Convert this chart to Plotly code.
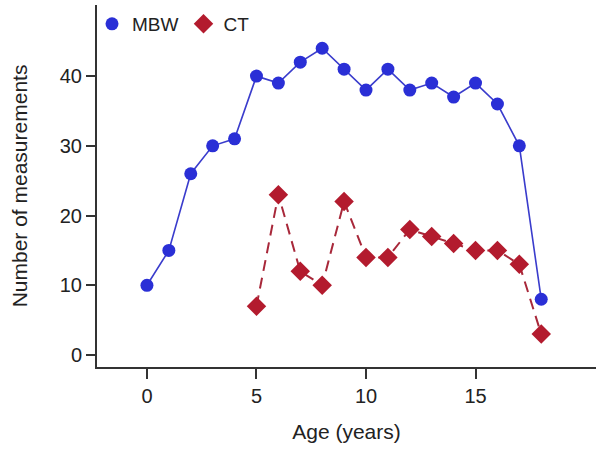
import plotly.graph_objects as go

mbw_age = list(range(0, 19))
mbw_n = [10, 15, 26, 30, 31, 40, 39, 42, 44, 41, 38, 41, 38, 39, 37, 39, 36, 30, 8]
ct_age = list(range(5, 19))
ct_n = [7, 23, 12, 10, 22, 14, 14, 18, 17, 16, 15, 15, 13, 3]

x_ticks = [0, 5, 10, 15]
y_ticks = [0, 10, 20, 30, 40]

blue = "#2a2fd6"
red = "#b31b2e"

fig = go.Figure()
fig.add_trace(go.Scatter(
    x=mbw_age, y=mbw_n, name="MBW", mode="lines+markers", showlegend=False,
    line=dict(color="#3a3ccc", width=1.6),
    marker=dict(symbol="circle", size=13, color=blue),
))
fig.add_trace(go.Scatter(
    x=ct_age, y=ct_n, name="CT", mode="lines+markers", showlegend=False,
    line=dict(color="#a8283a", width=2, dash="11px,7px"),
    marker=dict(symbol="diamond", size=15, color=red),
))
# legend entries (markers only)
fig.add_trace(go.Scatter(x=[None], y=[None], name="MBW", mode="markers",
                         marker=dict(symbol="circle", size=13, color=blue)))
fig.add_trace(go.Scatter(x=[None], y=[None], name="CT", mode="markers",
                         marker=dict(symbol="diamond", size=15, color=red)))

font = "Liberation Sans, Arial, sans-serif"
fig.update_layout(
    width=596, height=454,
    margin=dict(l=97, r=0, t=5, b=87),
    paper_bgcolor="white", plot_bgcolor="white",
    font=dict(family=font, size=20, color="#222"),
    showlegend=True,
    legend=dict(orientation="h", x=-0.01, y=1.0, xanchor="left", yanchor="top",
                font=dict(size=19, color="#222"), itemwidth=30,
                bgcolor="rgba(0,0,0,0)", tracegroupgap=0),
    xaxis=dict(range=[-2.28, 20.5], tickvals=x_ticks, showgrid=False, zeroline=False,
               showline=True, linecolor="#333", linewidth=2, automargin=False,
               ticks="outside", ticklen=10, tickwidth=1.5, tickcolor="#333",
               tickfont=dict(size=20),
               title=dict(text="Age (years)", font=dict(size=21), standoff=18)),
    yaxis=dict(range=[-1.72, 50.2], tickvals=y_ticks, showgrid=False, zeroline=False,
               showline=True, linecolor="#333", linewidth=2, automargin=False,
               ticks="outside", ticklen=9, tickwidth=1.5, tickcolor="#333",
               tickfont=dict(size=20),
               title=dict(text="Number of measurements", font=dict(size=21), standoff=26)),
)
fig.write_html("out.html", config={"displayModeBar": False},
               post_script="document.body.style.margin='0';")
